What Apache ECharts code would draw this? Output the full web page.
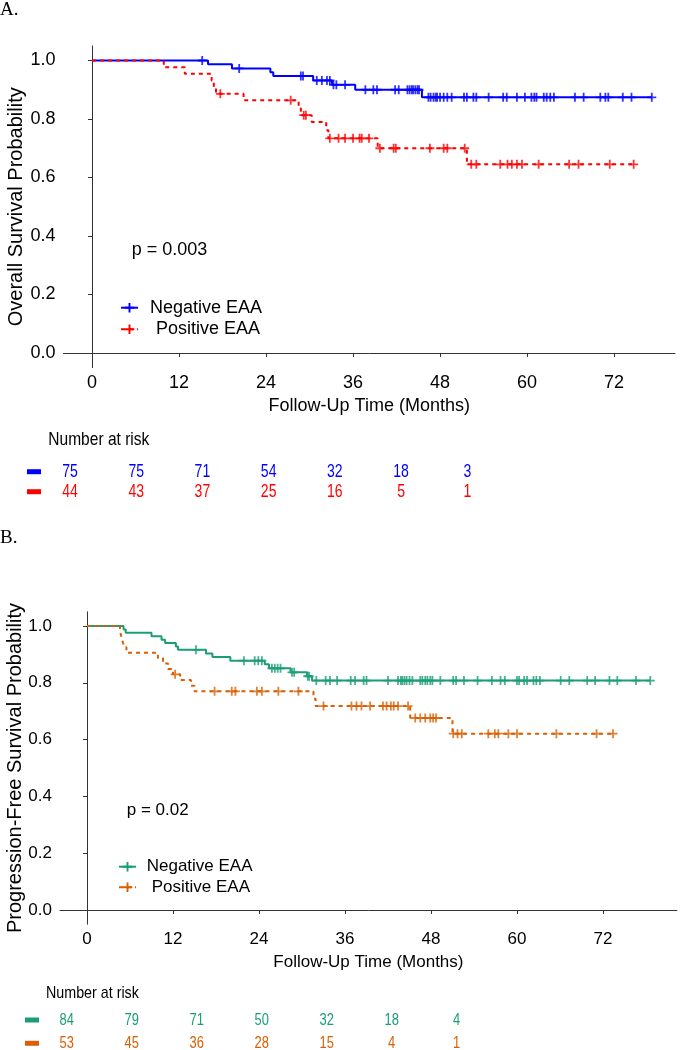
<!DOCTYPE html>
<html><head><meta charset="utf-8">
<script src="https://cdn.jsdelivr.net/npm/echarts@6/dist/echarts.min.js"></script>
<style>html,body{margin:0;padding:0;background:#fff;} #a,#b{width:683px;height:525px;}</style>
</head><body><div id="a"></div><div id="b"></div>
<script>
// ---------- DATA ----------
const timeTicks = [0, 12, 24, 36, 48, 60, 72];
const yTicks = [0, 0.2, 0.4, 0.6, 0.8, 1.0];
const groups = ['Negative EAA', 'Positive EAA'];

// Panel A: overall survival
const osNegTimes = [0, 16.0, 19.3, 24.6, 25.0, 30.5, 33.1, 36.3, 45.5];
const osNegSurv  = [1, 0.987, 0.973, 0.960, 0.947, 0.932, 0.917, 0.900, 0.874];
const osNegCensor = [15.2, 20.3, 28.8, 29.1, 31.0, 31.7, 32.4, 32.8, 33.3, 33.7, 34.9, 37.7, 38.8, 39.3, 41.8, 42.3, 43.5, 43.8, 44.1, 44.3, 44.6, 44.9, 45.1, 46.4, 46.7, 47.1, 47.4, 47.6, 48.0, 48.5, 49.0, 49.6, 51.3, 51.7, 52.6, 53.0, 54.7, 56.7, 57.2, 58.6, 59.7, 60.6, 61.0, 61.3, 62.3, 62.7, 63.2, 63.7, 66.6, 67.8, 70.1, 70.8, 71.2, 73.2, 74.4, 77.2];
const osNegEnd = 77.2;
const osPosTimes = [0, 9.9, 12.8, 16.5, 16.8, 17.1, 20.9, 28.5, 28.8, 30.3, 32.3, 32.6, 39.4, 51.7];
const osPosSurv  = [1, 0.977, 0.955, 0.932, 0.909, 0.886, 0.864, 0.838, 0.813, 0.790, 0.762, 0.734, 0.700, 0.645];
const osPosCensor = [17.7, 27.4, 29.2, 29.5, 32.8, 34.0, 34.9, 36.0, 36.9, 37.2, 38.2, 39.7, 41.6, 41.9, 46.6, 48.5, 49.0, 51.4, 52.3, 53.0, 56.3, 57.3, 57.9, 58.6, 59.3, 61.6, 65.8, 67.1, 71.4, 74.7];
const osPosEnd = 74.7;
const osRiskNeg = [75, 75, 71, 54, 32, 18, 3];
const osRiskPos = [44, 43, 37, 25, 16, 5, 1];

// Panel B: progression-free survival
const pfsNegTimes = [0, 5.1, 5.4, 9.0, 10.4, 10.9, 12.4, 12.7, 16.6, 17.5, 20.0, 24.8, 25.4, 28.4, 30.7, 31.4];
const pfsNegSurv  = [1, 0.988, 0.976, 0.964, 0.952, 0.940, 0.928, 0.916, 0.903, 0.891, 0.878, 0.865, 0.851, 0.837, 0.823, 0.808];
const pfsNegCensor = [15.2, 21.9, 23.4, 23.9, 24.4, 25.8, 26.2, 26.6, 27.0, 28.6, 28.9, 30.8, 31.0, 32.0, 33.3, 33.9, 34.9, 36.8, 37.4, 38.6, 39.0, 42.0, 43.4, 43.8, 44.0, 44.3, 44.6, 45.0, 45.4, 46.5, 46.8, 47.2, 47.5, 47.9, 48.2, 49.3, 51.1, 51.5, 52.6, 54.5, 56.5, 57.7, 58.3, 60.0, 60.3, 61.0, 61.4, 62.3, 62.7, 63.2, 66.1, 67.3, 69.8, 70.9, 72.9, 74.0, 76.6, 78.6];
const pfsNegEnd = 78.6;
const pfsPosTimes = [0, 4.6, 4.8, 5.0, 5.2, 5.5, 9.9, 10.6, 11.3, 12.0, 13.0, 14.5, 15.0, 31.6, 31.9, 45.1, 51.0];
const pfsPosSurv  = [1, 0.981, 0.962, 0.943, 0.925, 0.906, 0.887, 0.868, 0.849, 0.830, 0.810, 0.790, 0.770, 0.744, 0.718, 0.676, 0.621];
const pfsPosCensor = [12.3, 17.8, 20.2, 20.7, 23.7, 24.4, 26.7, 29.5, 33.0, 36.9, 37.6, 38.3, 39.5, 41.3, 41.8, 42.4, 42.8, 43.4, 44.8, 45.8, 46.5, 47.2, 47.9, 48.3, 48.7, 51.1, 51.7, 52.3, 56.0, 56.9, 57.4, 58.8, 60.0, 65.5, 71.1, 73.4];
const pfsPosEnd = 73.4;
const pfsRiskNeg = [84, 79, 71, 50, 32, 18, 4];
const pfsRiskPos = [53, 45, 36, 28, 15, 4, 1];

// ---------- HELPERS ----------
const PLUS = 'path://M4,0h2v4h4v2h-4v4h-2v-4h-4v-2h4z';
const FONT = '"Liberation Sans", Arial, sans-serif';

function stepData(times, surv, end) {
  const d = times.map((t, i) => [t, surv[i]]);
  d.push([end, surv[surv.length - 1]]);
  return d;
}
function censorData(times, surv, cens) {
  return cens.map(c => {
    let s = surv[0];
    for (let i = 0; i < times.length; i++) if (times[i] <= c) s = surv[i];
    return [c, s];
  });
}

function makeOption(cfg) {
  const fs = cfg.fs;
  const c = cfg.colors;
  const axisLine = { show: true, lineStyle: { color: '#333', width: 1 } };
  const riskData = [];
  timeTicks.forEach((t, i) => {
    riskData.push([t, 0, cfg.riskNeg[i]]);
    riskData.push([t, 1, cfg.riskPos[i]]);
  });
  return {
    animation: false,
    textStyle: { fontFamily: FONT },
    grid: [
      { left: cfg.grid[0], top: cfg.grid[1], width: cfg.grid[2], height: cfg.grid[3],
        containLabel: false, outerBoundsMode: 'none' },
      { left: cfg.rgrid[0], top: cfg.rgrid[1], width: cfg.rgrid[2], height: cfg.rgrid[3],
        containLabel: false, outerBoundsMode: 'none' }
    ],
    xAxis: [
      { type: 'value', gridIndex: 0, min: cfg.xMin, max: cfg.xMax,
        axisLine: axisLine,
        axisTick: { show: true, length: 4, customValues: timeTicks, lineStyle: { color: '#333' } },
        axisLabel: { customValues: timeTicks, color: '#000', fontSize: fs, margin: cfg.xLabelMargin, fontFamily: FONT },
        splitLine: { show: false },
        name: 'Follow-Up Time (Months)', nameLocation: 'middle', nameGap: cfg.xNameGap, nameMoveOverlap: false,
        nameTextStyle: { fontSize: fs, color: '#000', fontFamily: FONT } },
      { type: 'value', gridIndex: 1, min: 0, max: 72, show: false }
    ],
    yAxis: [
      { type: 'value', gridIndex: 0, min: -0.05, max: 1.05,
        axisLine: axisLine,
        axisTick: { show: true, length: 4, customValues: yTicks, lineStyle: { color: '#333' } },
        axisLabel: { customValues: yTicks, color: '#000', fontSize: fs, margin: 8, fontFamily: FONT,
                     formatter: v => Number(v).toFixed(1) },
        splitLine: { show: false },
        name: cfg.yTitle, nameLocation: 'middle', nameGap: cfg.yNameGap, nameRotate: 90, nameMoveOverlap: false,
        nameTextStyle: { fontSize: cfg.yTitleFs, color: '#000', fontFamily: FONT } },
      { type: 'category', gridIndex: 1, data: groups, inverse: true,
        axisLine: { show: false }, axisTick: { show: false },
        axisLabel: { margin: cfg.keyMargin,
          formatter: (v, i) => (i === 0 ? '{k0| }' : '{k1| }'),
          rich: { k0: { width: 14, height: 5, lineHeight: 5, fontSize: 1, backgroundColor: c[0] },
                  k1: { width: 14, height: 5, lineHeight: 5, fontSize: 1, backgroundColor: c[1] } } } }
    ],
    legend: {
      orient: 'vertical', left: cfg.legend[0], top: cfg.legend[1], padding: 0, itemGap: 0,
      itemWidth: 17, itemHeight: 12, selectedMode: false,
      data: groups,
      formatter: name => (name.indexOf('Neg') === 0 ? '{n|' + name + '}' : '{p|' + name + '}'),
      textStyle: { fontSize: fs, lineHeight: cfg.legend[2], color: '#000', fontFamily: FONT,
        rich: { n: { fontSize: fs, color: '#000', fontFamily: FONT, padding: [0, 0, 0, cfg.legend[3]] },
                p: { fontSize: fs, color: '#000', fontFamily: FONT, padding: [0, 0, 0, cfg.legend[4]] } } }
    },
    series: [
      { name: groups[0], type: 'line', step: 'end', xAxisIndex: 0, yAxisIndex: 0,
        data: stepData(cfg.negT, cfg.negS, cfg.negEnd), showSymbol: false, symbol: PLUS, symbolSize: 9,
        color: c[0], itemStyle: { color: c[0] }, lineStyle: { color: c[0], width: 2 } },
      { name: 'censorNeg', type: 'scatter', xAxisIndex: 0, yAxisIndex: 0,
        data: censorData(cfg.negT, cfg.negS, cfg.negC), symbol: PLUS, symbolSize: 9,
        itemStyle: { color: c[0] } },
      { name: groups[1], type: 'line', step: 'end', xAxisIndex: 0, yAxisIndex: 0,
        data: stepData(cfg.posT, cfg.posS, cfg.posEnd), showSymbol: false, symbol: PLUS, symbolSize: 9,
        color: c[1], itemStyle: { color: c[1] }, lineStyle: { color: c[1], width: 2, type: [4, 4] } },
      { name: 'censorPos', type: 'scatter', xAxisIndex: 0, yAxisIndex: 0,
        data: censorData(cfg.posT, cfg.posS, cfg.posC), symbol: PLUS, symbolSize: 9,
        itemStyle: { color: c[1] } },
      { name: 'risk', type: 'custom', xAxisIndex: 1, yAxisIndex: 1, data: riskData,
        renderItem: (params, api) => {
          const row = api.value(1);
          const p = api.coord([api.value(0), row]);
          return { type: 'text', x: p[0], y: p[1], scaleX: cfg.riskScale,
            style: { text: String(api.value(2)), fill: c[row], fontSize: cfg.riskFs, fontFamily: FONT,
                     align: 'center', verticalAlign: 'middle' } };
        } }
    ],
    graphic: [
      { type: 'text', x: 0, y: cfg.labelY, style: { text: cfg.label, fill: '#000', fontSize: 19,
        fontFamily: '"Liberation Serif", "Times New Roman", serif', align: 'left', verticalAlign: 'middle' } },
      { type: 'text', x: cfg.pPos[0], y: cfg.pPos[1], style: { text: cfg.pText, fill: '#000', fontSize: fs,
        fontFamily: FONT, align: 'left', verticalAlign: 'middle' } },
      { type: 'text', x: cfg.nar[0], y: cfg.nar[1], scaleX: 0.84, style: { text: 'Number at risk', fill: '#000',
        fontSize: cfg.riskFs, fontFamily: FONT, align: 'left', verticalAlign: 'middle' } }
    ]
  };
}

const chartA = echarts.init(document.getElementById('a'));
chartA.setOption(makeOption({
  fs: 18, yTitleFs: 20, colors: ['#0000FF', '#FF0000'],
  grid: [63.5, 45.9, 611.5, 321.7], xMin: -3.93, xMax: 80.4,
  rgrid: [70, 461.7, 397.3, 40],
  xLabelMargin: 6, xNameGap: 29, yNameGap: 37, yTitle: 'Overall Survival Probability',
  keyMargin: 29, legend: [120, 296.9, 21.6, 7, 13],
  negT: osNegTimes, negS: osNegSurv, negC: osNegCensor, negEnd: osNegEnd,
  posT: osPosTimes, posS: osPosSurv, posC: osPosCensor, posEnd: osPosEnd,
  riskNeg: osRiskNeg, riskPos: osRiskPos, riskFs: 18.5, riskScale: 0.76,
  label: 'A.', labelY: 10, pText: 'p = 0.003', pPos: [131.7, 250], nar: [48.3, 440]
}));

const chartB = echarts.init(document.getElementById('b'));
chartB.setOption(makeOption({
  fs: 17, yTitleFs: 20, colors: ['#1B9E77', '#D95F02'],
  grid: [60, 86.8, 616.8, 312.4], xMin: -3.77, xMax: 82.3,
  rgrid: [66.7, 483.35, 390, 46.6],
  xLabelMargin: 7, xNameGap: 30, yNameGap: 35, yTitle: 'Progression-Free Survival Probability',
  keyMargin: 27.7, legend: [118, 331.4, 20.6, 5.7, 10.7],
  negT: pfsNegTimes, negS: pfsNegSurv, negC: pfsNegCensor, negEnd: pfsNegEnd,
  posT: pfsPosTimes, posS: pfsPosSurv, posC: pfsPosCensor, posEnd: pfsPosEnd,
  riskNeg: pfsRiskNeg, riskPos: pfsRiskPos, riskFs: 17, riskScale: 0.76,
  label: 'B.', labelY: 13, pText: 'p = 0.02', pPos: [126.7, 285], nar: [46, 468]
}));
</script>
</body></html>
